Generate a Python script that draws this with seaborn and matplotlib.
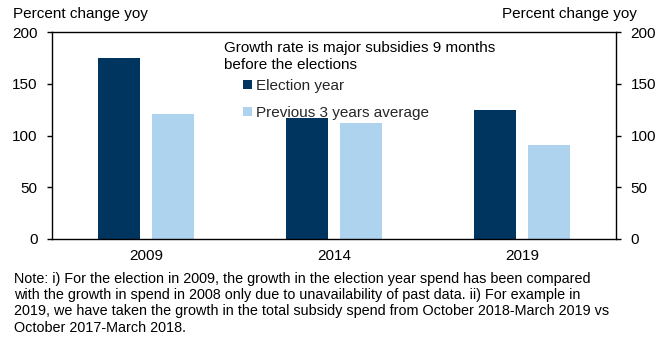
import matplotlib
matplotlib.use("Agg")
import matplotlib.pyplot as plt
from matplotlib.patches import Patch
import seaborn as sns
import pandas as pd

years = ["2009", "2014", "2019"]
election_year = [175, 117, 125]
prev_3yr_avg = [121, 112, 91]
series_names = ["Election year", "Previous 3 years average"]
colors = ["#003560", "#AED3EF"]
y_ticks = [0, 50, 100, 150, 200]

df = pd.DataFrame({
    "year": years * 2,
    "value": election_year + prev_3yr_avg,
    "series": [series_names[0]] * 3 + [series_names[1]] * 3,
})

sns.set_theme(style="white")
plt.rcParams["font.family"] = ["Liberation Sans", "DejaVu Sans"]
plt.rcParams["font.size"] = 11

fig = plt.figure(figsize=(6.69, 3.41), dpi=100)
ax = fig.add_axes([52 / 669, 1 - 239 / 341, (616 - 52) / 669, (239 - 32) / 341])

sns.barplot(data=df, x="year", y="value", hue="series", palette=colors,
            saturation=1, width=0.575, gap=0.224, linewidth=0, ax=ax,
            legend=False)

ax.set_xlim(-0.5, 2.5)
ax.set_ylim(0, 200)
ax.set_yticks(y_ticks)
ax.set_xlabel("")
ax.set_ylabel("")
for s in ax.spines.values():
    s.set_visible(True)
    s.set_color("black")
    s.set_linewidth(1.0)

ax.set_xticks([-0.5, 0.5, 1.5, 2.5], minor=True)
ax.tick_params(axis="x", which="major", length=0, pad=7, labelsize=11, colors="black")
ax.tick_params(axis="x", which="minor", length=4, direction="out", width=1, color="black")
ax.tick_params(axis="y", which="major", length=3.5, direction="out", width=1,
               left=True, right=True, labelleft=True, labelright=True,
               labelsize=11, colors="black", pad=7)

fig.text(13 / 669, 1 - 14 / 341, "Percent change yoy", ha="left", va="center",
         fontsize=11, color="black")
fig.text(637 / 669, 1 - 14 / 341, "Percent change yoy", ha="right", va="center",
         fontsize=11, color="black")

# legend: title block then the two series entries
fig.text(224 / 669, 1 - 56.5 / 341,
         "Growth rate is major subsidies 9 months\nbefore the elections",
         ha="left", va="center", fontsize=11, linespacing=1.35, color="black")
handles = [Patch(facecolor=c, edgecolor="none") for c in colors]
fig.legend(handles, series_names, loc="upper left",
           bbox_to_anchor=(243 / 669, 1 - 79 / 341),
           frameon=False, fontsize=11, handlelength=0.6, handleheight=0.6,
           handletextpad=0.25, labelspacing=0.85, borderaxespad=0,
           borderpad=0)

note = ("Note: i) For the election in 2009, the growth in the election year spend has been compared\n"
        "with the growth in spend in 2008 only due to unavailability of past data. ii) For example in\n"
        "2019, we have taken the growth in the total subsidy spend from October 2018-March 2019 vs\n"
        "October 2017-March 2018.")
fig.text(14 / 669, 1 - 272 / 341, note, ha="left", va="top", fontsize=10.4,
         linespacing=1.2, color="black")

fig.savefig("out.png", dpi=100)
